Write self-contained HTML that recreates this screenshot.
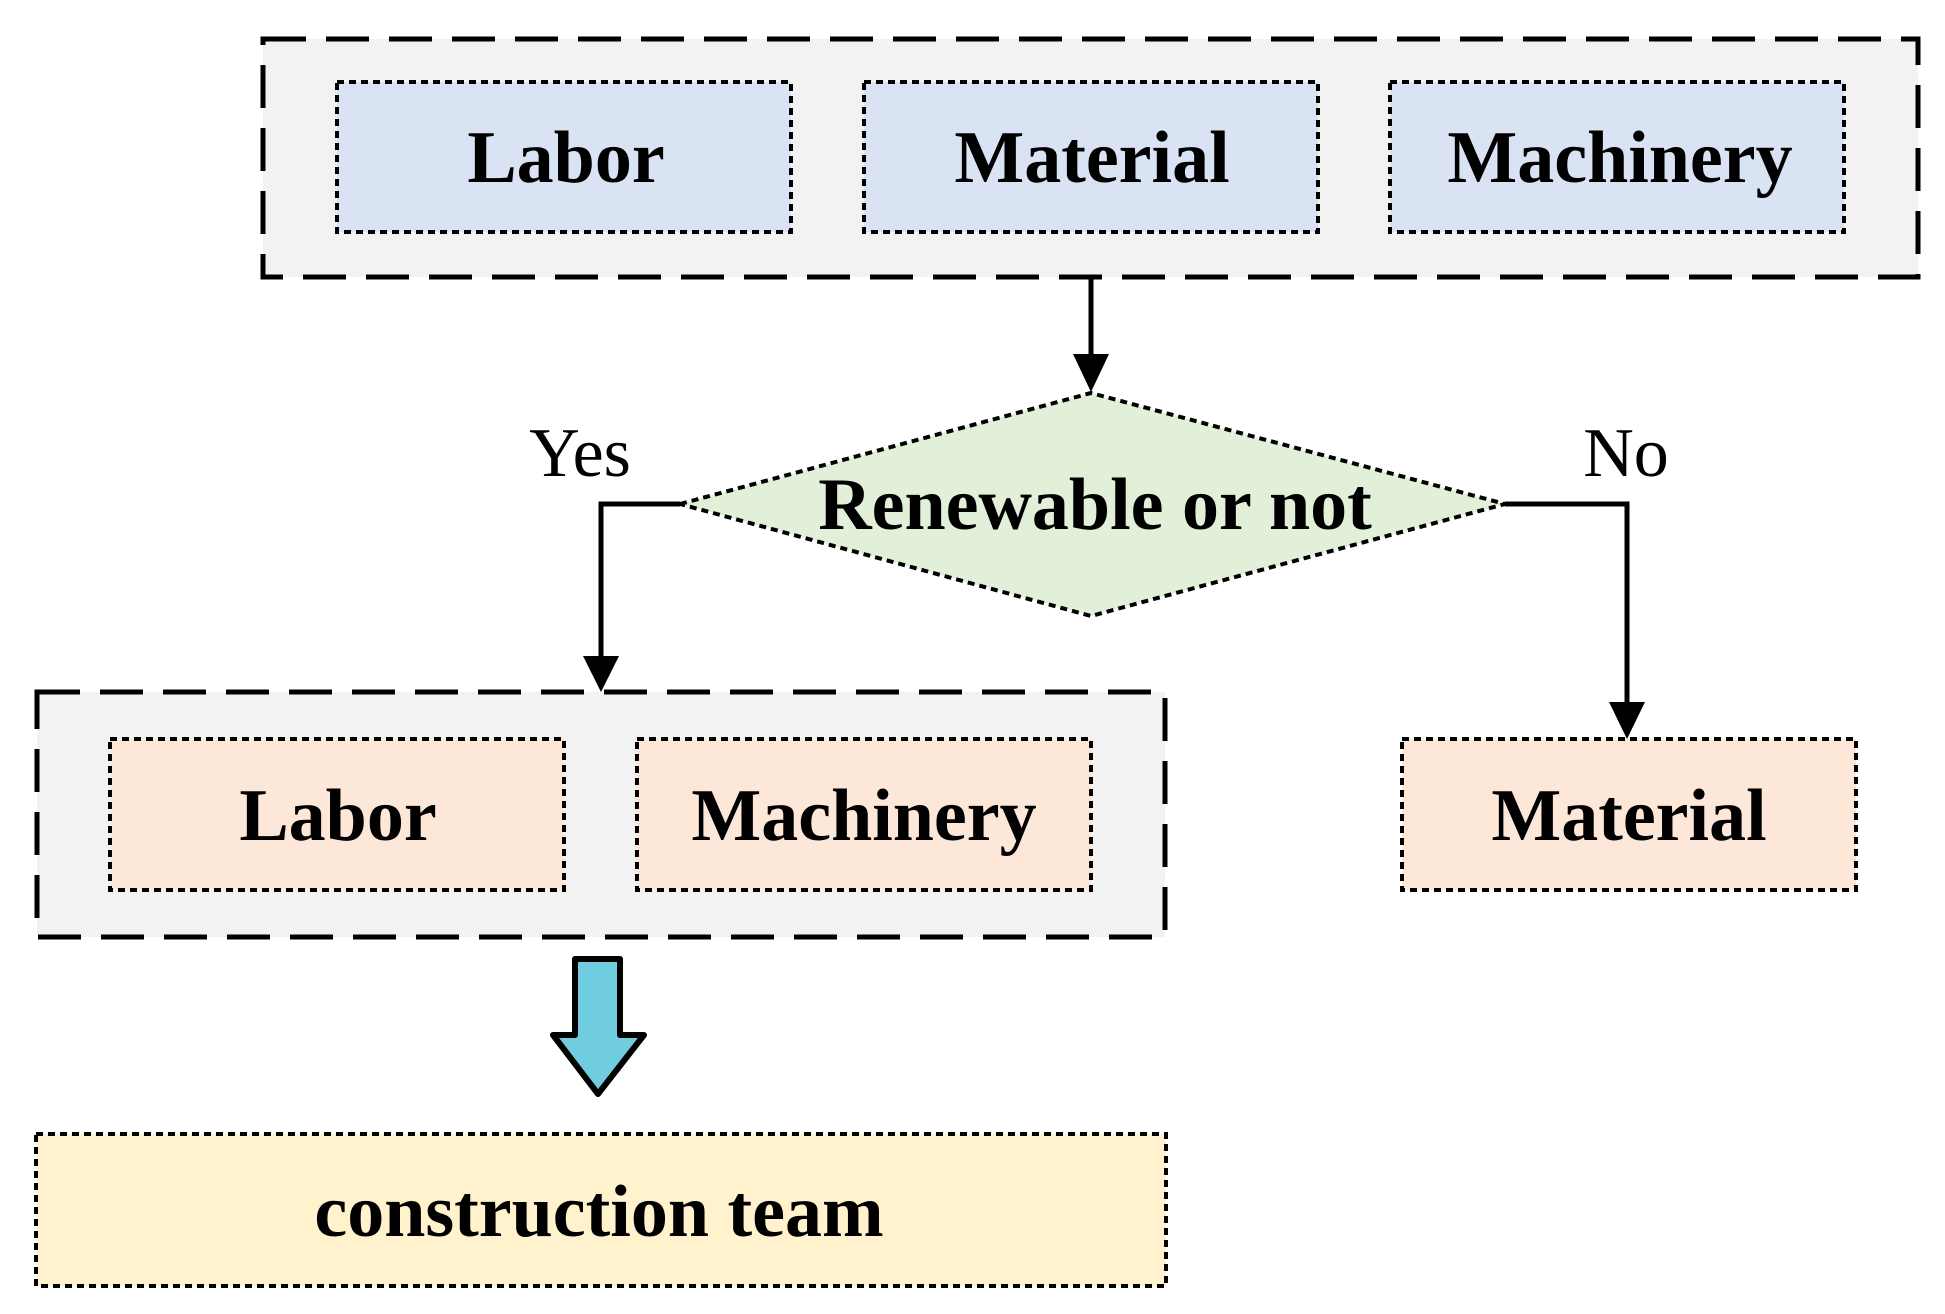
<!DOCTYPE html>
<html><head><meta charset="utf-8"><style>
html,body{margin:0;padding:0;background:#fff;}
svg{display:block;}
text{font-family:"Liberation Serif",serif;}
.b{font-weight:bold;font-size:74px;}
</style></head><body>
<svg width="1945" height="1314" viewBox="0 0 1945 1314" xmlns="http://www.w3.org/2000/svg">
<g stroke="#000" stroke-width="5" stroke-dasharray="43 20">
<rect x="263" y="39" width="1655" height="238" fill="#f2f2f2"/>
<rect x="37" y="692" width="1128" height="245" fill="#f2f2f2"/>
</g>
<g stroke="#000" stroke-width="4" stroke-dasharray="7 5">
<rect x="337" y="82" width="454" height="150" fill="#dae3f3"/>
<rect x="864" y="82" width="454" height="150" fill="#dae3f3"/>
<rect x="1390" y="82" width="454" height="150" fill="#dae3f3"/>
<polygon points="680,504 1091,393 1505,504 1091,616" fill="#e2f0d9"/>
<rect x="110" y="739" width="454" height="151" fill="#fde7d8"/>
<rect x="637" y="739" width="454" height="151" fill="#fde7d8"/>
<rect x="1402" y="739" width="454" height="151" fill="#fde7d8"/>
<rect x="36" y="1134" width="1130" height="152" fill="#fff2cc"/>
</g>
<g stroke="#000" stroke-width="5" fill="none">
<line x1="1091" y1="277" x2="1091" y2="356"/>
<polyline points="680,504 601,504 601,660"/>
<polyline points="1505,504 1627,504 1627,705"/>
</g>
<g fill="#000">
<polygon points="1073,354 1109,354 1091,392"/>
<polygon points="583,656 619,656 601,692"/>
<polygon points="1609,702 1645,702 1627,739"/>
</g>
<polygon points="575,959 620,959 620,1035 644,1035 598,1094 553,1035 575,1035" fill="#70cde0" stroke="#000" stroke-width="6" stroke-linejoin="round"/>
<g class="b" text-anchor="middle">
<text x="566" y="182">Labor</text>
<text x="1092" y="182">Material</text>
<text x="1620" y="182">Machinery</text>
<text x="1095" y="529">Renewable or not</text>
<text x="338" y="840">Labor</text>
<text x="864" y="840">Machinery</text>
<text x="1629" y="840">Material</text>
<text x="599" y="1236">construction team</text>
</g>
<g font-size="70" text-anchor="middle">
<text x="580" y="476">Yes</text>
<text x="1626" y="476">No</text>
</g>
</svg>
</body></html>
